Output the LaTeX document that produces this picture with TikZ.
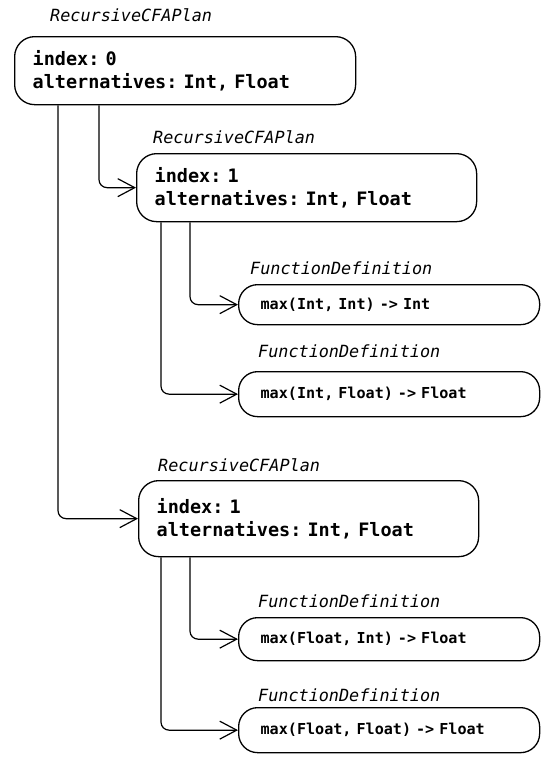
\documentclass[tikz,border=0pt]{standalone}
\usepackage{fontspec}
\setmonofont{DejaVu Sans Mono}
\usetikzlibrary{arrows.meta}
\begin{document}
\frenchspacing
\begin{tikzpicture}[x=1pt,y=-1pt,
  bigbox/.style={draw, line width=1.3pt, rounded corners=20pt, anchor=north west,
    align=left, inner xsep=18pt, inner ysep=0pt,
    font=\ttfamily\bfseries\fontsize{18.5}{23}\selectfont},
  smallbox/.style={draw, line width=1.3pt, rounded corners=19pt, anchor=north west,
    align=left, inner xsep=22pt, inner ysep=0pt,
    font=\ttfamily\bfseries\fontsize{15.1}{18}\selectfont},
  lbl/.style={anchor=base west, inner sep=0pt, font=\ttfamily\itshape\fontsize{16.8}{20}\selectfont},
  conn/.style={line width=1.2pt, rounded corners=8pt, -{Straight Barb[length=17pt,width=18pt]}}
]
\useasboundingbox (0,0) rectangle (557,774);

% boxes
\node[bigbox, minimum width=341pt, minimum height=68pt, text width=305pt] (a) at (14,36)
  {index: 0\\alternatives: Int, Float};
\node[bigbox, minimum width=340pt, minimum height=68pt, text width=304pt] (b) at (136,153)
  {index: 1\\alternatives: Int, Float};
\node[bigbox, minimum width=340pt, minimum height=76pt, text width=304pt] (e) at (138,480)
  {index: 1\\alternatives: Int, Float};

\node[smallbox, minimum width=301pt, minimum height=40pt, text width=257pt] (c) at (238,284)
  {max(Int, Int) -> Int};
\node[smallbox, minimum width=301pt, minimum height=45pt, text width=257pt] (d) at (238,371)
  {max(Int, Float) -> Float};
\node[smallbox, minimum width=301pt, minimum height=43pt, text width=257pt] (f) at (238,617)
  {max(Float, Int) -> Float};
\node[smallbox, minimum width=301pt, minimum height=45pt, text width=257pt] (g) at (238,707)
  {max(Float, Float) -> Float};

% labels
\node[lbl] (la) at (50,21.5) {RecursiveCFAPlan};
\node[lbl] (lb) at (153,143) {RecursiveCFAPlan};
\node[lbl] (le) at (158,471) {RecursiveCFAPlan};
\node[lbl] (lc) at (250,274) {FunctionDefinition};
\node[lbl] (ld) at (258,357.5) {FunctionDefinition};
\node[lbl] (lf) at (258,607) {FunctionDefinition};
\node[lbl] (lg) at (258,701) {FunctionDefinition};

% connectors
\draw[conn] ([xshift=44pt]a.south west) |- (e.west);
\draw[conn] ([xshift=85pt]a.south west) |- (b.west);
\draw[conn] ([xshift=25pt]b.south west) |- (d.west);
\draw[conn] ([xshift=54pt]b.south west) |- (c.west);
\draw[conn] ([xshift=23pt]e.south west) |- (g.west);
\draw[conn] ([xshift=52pt]e.south west) |- (f.west);
\end{tikzpicture}
\end{document}
